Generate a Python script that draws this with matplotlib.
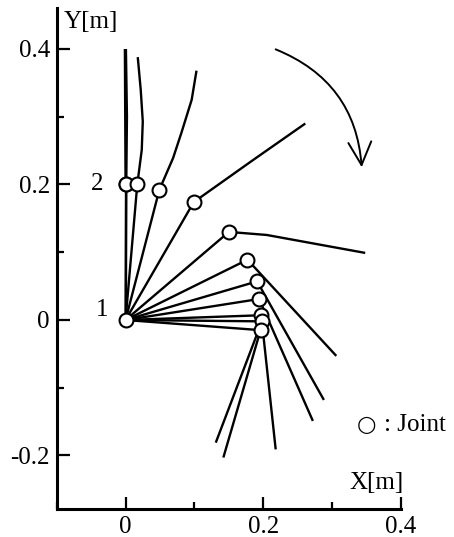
import matplotlib
matplotlib.use("Agg")
import matplotlib.pyplot as plt
from matplotlib.patches import FancyArrowPatch
from matplotlib.ticker import MultipleLocator, FuncFormatter

plt.rcParams['font.family'] = ['Liberation Serif', 'DejaVu Serif']
plt.rcParams['axes.unicode_minus'] = False

# Joint 1 (base)
base_x, base_y = 0.0, 0.0

# Joint 2 positions for each configuration
joint2_x = [0.000, 0.001, 0.017, 0.049, 0.099, 0.150, 0.177, 0.191, 0.194, 0.197, 0.198, 0.196]
joint2_y = [0.200, 0.200, 0.200, 0.192, 0.174, 0.130, 0.089, 0.057, 0.031, 0.007, -0.002, -0.015]

# Link 2 shape (points after joint 2, ending at the tip) for each configuration
link2_x = [
    [-0.001],
    [0.002, 0.0005],
    [0.0235, 0.025, 0.022, 0.0177],
    [0.069, 0.081, 0.096, 0.103],
    [0.185, 0.261],
    [0.205, 0.348],
    [0.306],
    [0.288],
    [0.272],
    [0.218],
    [0.131],
    [0.142],
]
link2_y = [
    [0.400],
    [0.300, 0.400],
    [0.251, 0.293, 0.340, 0.388],
    [0.239, 0.276, 0.325, 0.368],
    [0.236, 0.290],
    [0.1255, 0.099],
    [-0.053],
    [-0.118],
    [-0.149],
    [-0.191],
    [-0.181],
    [-0.203],
]

fig = plt.figure(figsize=(4.54, 5.37), dpi=100)
ax = fig.add_axes([0.1249, 0.0516, 0.7584, 0.9335])
ax.set_xlim(-0.1, 0.4)
ax.set_ylim(-0.2794, 0.4605)

lw = 1.7
for jx, jy, lx, ly in zip(joint2_x, joint2_y, link2_x, link2_y):
    ax.plot([base_x, jx], [base_y, jy], color='black', lw=lw, solid_capstyle='butt', zorder=2)
    ax.plot([jx] + lx, [jy] + ly, color='black', lw=lw, solid_capstyle='butt', zorder=2)

ax.plot(joint2_x, joint2_y, 'o', ms=10, mfc='white', mec='black', mew=1.5, ls='none', zorder=3)
ax.plot([base_x], [base_y], 'o', ms=10, mfc='white', mec='black', mew=1.5, zorder=3)

# Rotation arrow
arr = FancyArrowPatch((0.2142, 0.401), (0.3432, 0.2214),
                      connectionstyle='arc3,rad=-0.32',
                      arrowstyle='->,head_length=1.1,head_width=0.55',
                      mutation_scale=15, lw=1.4, color='black', zorder=4)
ax.add_patch(arr)

# Spines and ticks
for s in ['top', 'right']:
    ax.spines[s].set_visible(False)
for s in ['left', 'bottom']:
    ax.spines[s].set_linewidth(2.2)

ax.xaxis.set_major_locator(MultipleLocator(0.2))
ax.xaxis.set_minor_locator(MultipleLocator(0.1))
ax.yaxis.set_major_locator(MultipleLocator(0.2))
ax.yaxis.set_minor_locator(MultipleLocator(0.1))

def fmt(v, pos):
    if abs(v) < 1e-9:
        return '0'
    return '%g' % v

ax.xaxis.set_major_formatter(FuncFormatter(fmt))
ax.yaxis.set_major_formatter(FuncFormatter(fmt))
ax.tick_params(which='major', direction='in', length=9, width=1.6, labelsize=18, pad=5)
ax.tick_params(which='minor', direction='in', length=5, width=1.6)

ax.text(0.021, 0.9727, 'Y[m]', transform=ax.transAxes, fontsize=18, ha='left', va='center')
ax.text(0.364, -0.241, 'X[m]', fontsize=18, ha='center', va='center')
ax.text(-0.0417, 0.2, '2', fontsize=18, ha='center', va='center')
ax.text(-0.0345, 0.0148, '1', fontsize=18, ha='center', va='center')
ax.text(0.350, -0.155, '\u25cb', fontsize=16, ha='center', va='center',
        family=['DejaVu Sans'], clip_on=False)
ax.text(0.376, -0.155, ': Joint', fontsize=18, ha='left', va='center', clip_on=False)

fig.savefig('out.png', dpi=100)
